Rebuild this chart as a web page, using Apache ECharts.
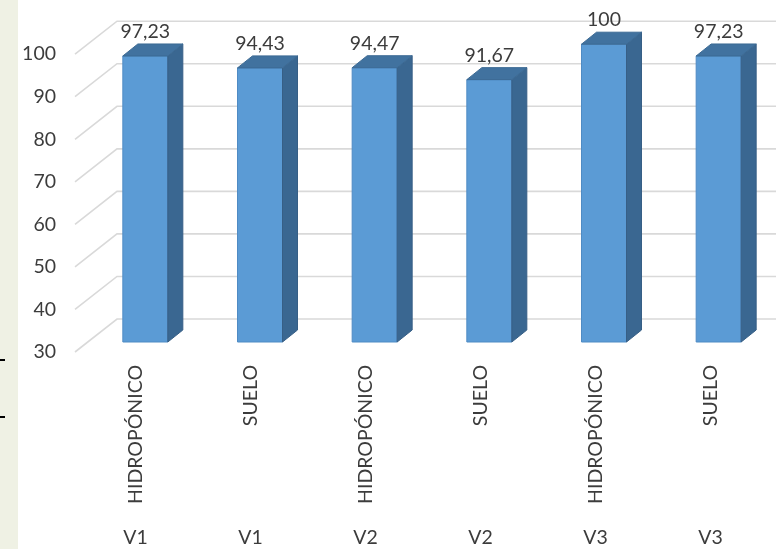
<!DOCTYPE html>
<html><head><meta charset="utf-8">
<script src="https://cdn.jsdelivr.net/npm/echarts@6/dist/echarts.min.js"></script>
<style>html,body{margin:0;padding:0;background:#fff}#c{width:776px;height:549px}</style>
</head><body><div id="c"></div>
<script>
const categories = ['HIDROPÓNICO','SUELO','HIDROPÓNICO','SUELO','HIDROPÓNICO','SUELO'];
const varieties = ['V1','V1','V2','V2','V3','V3'];
const values = [97.23, 94.43, 94.47, 91.67, 100, 97.23];
const yTicks = [30,40,50,60,70,80,90,100];

const FONT = 'Lato';
const FS = 19.5;
const TXT = '#3c3c3c';
const chart = echarts.init(document.getElementById('c'), null, {renderer:'canvas'});

function fmt(v){ return String(v).replace('.', ','); }

const BAR_W = 45, DX = 15, DY = 12;

chart.setOption({
  animation:false,
  backgroundColor:'#ffffff',
  graphic:[
    {type:'rect', shape:{x:0,y:0,width:18,height:549}, style:{fill:'#eff1e4'}, z:-10},
    {type:'rect', shape:{x:0,y:359,width:5,height:2}, style:{fill:'#000'}},
    {type:'rect', shape:{x:0,y:416,width:5,height:2}, style:{fill:'#000'}}
  ],
  grid:[
    {left:88, width:690, top:44.2, bottom:207},
    {left:64, width:10, top:54.2, bottom:197},
    {left:78, width:690, top:44.2, bottom:207},
    {left:78, width:690, top:44.2, bottom:207}
  ],
  xAxis:[
    {gridIndex:0, type:'category', data:categories, show:false},
    {gridIndex:1, type:'value', show:false},
    {gridIndex:2, type:'category', data:categories, axisLine:{show:false}, axisTick:{show:false},
      axisLabel:{rotate:90, margin:23, fontFamily:FONT, fontSize:FS, color:TXT, interval:0}},
    {gridIndex:3, type:'category', data:varieties, axisLine:{show:false}, axisTick:{show:false},
      axisLabel:{margin:186, fontFamily:FONT, fontSize:FS, color:TXT, interval:0}}
  ],
  yAxis:[
    {gridIndex:0, type:'value', min:30, max:100, interval:10, show:false},
    {gridIndex:1, type:'value', min:30, max:100, interval:10, axisLine:{show:false}, axisTick:{show:false}, splitLine:{show:false},
      axisLabel:{margin:8, fontFamily:FONT, fontSize:FS, color:TXT}},
    {gridIndex:2, type:'value', show:false},
    {gridIndex:3, type:'value', show:false}
  ],
  series:[
    {
      type:'custom', xAxisIndex:0, yAxisIndex:0, z:1, silent:true,
      data: yTicks.map(v => [0, v]),
      renderItem:function(params, api){
        const v = api.value(1);
        const p = api.coord([0, v]);
        const cw = api.size([1, 0])[0];
        const left = p[0] - cw/2;
        const y = p[1];
        return {type:'polyline', shape:{points:[[left-13, y+10],[left+29, y-23],[left+760, y-23]]},
          style:{stroke:'#d9d9d9', lineWidth:1.6, fill:null}};
      }
    },
    {
      type:'custom', xAxisIndex:0, yAxisIndex:0, z:5, silent:true,
      data: values.map((v,i) => [i, v]),
      renderItem:function(params, api){
        const i = api.value(0), v = api.value(1);
        const p = api.coord([i, v]);
        const b = api.coord([i, 30]);
        const x = p[0] - BAR_W/2, t = p[1], bot = b[1];
        return {type:'group', children:[
          {type:'rect', shape:{x:x, y:t, width:BAR_W, height:bot-t}, style:{fill:'#5b9bd5', stroke:'#4f8bc4', lineWidth:1}},
          {type:'polygon', shape:{points:[[x+BAR_W,t],[x+BAR_W+DX,t-DY],[x+BAR_W+DX,bot-DY],[x+BAR_W,bot]]}, style:{fill:'#3a6791', stroke:'#375f86', lineWidth:1}},
          {type:'polygon', shape:{points:[[x,t],[x+DX,t-DY],[x+BAR_W+DX,t-DY],[x+BAR_W,t]]}, style:{fill:'#41729f', stroke:'#3c6a94', lineWidth:1}},
          {type:'text', style:{text:fmt(v), x:p[0], y:t-DY-12, align:'center', verticalAlign:'middle', fontFamily:FONT, fontSize:FS, fill:TXT}}
        ]};
      }
    }
  ]
});
</script></body></html>
